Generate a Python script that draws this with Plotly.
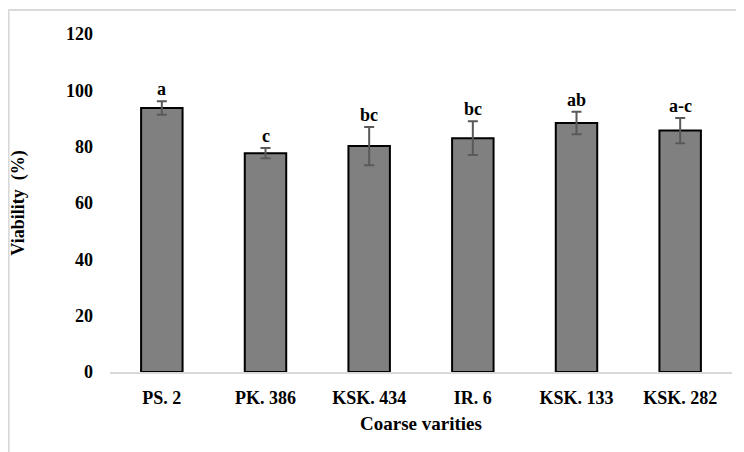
import plotly.graph_objects as go

categories = ["PS. 2", "PK. 386", "KSK. 434", "IR. 6", "KSK. 133", "KSK. 282"]
viability = [93.7, 77.7, 80.2, 83.0, 88.4, 85.7]
errors = [2.4, 1.8, 6.8, 6.0, 4.0, 4.5]
letters = ["a", "c", "bc", "bc", "ab", "a-c"]
y_ticks = [0, 20, 40, 60, 80, 100, 120]

font_family = "Liberation Serif, Times New Roman, serif"

fig = go.Figure()
fig.add_trace(go.Bar(
    x=categories, y=viability,
    marker=dict(color="#808080", line=dict(color="#000000", width=2)),
    error_y=dict(type="data", array=errors, visible=True, color="#595959",
                 thickness=2, width=5),
    width=0.4,
))

for c, v, e, t in zip(categories, viability, errors, letters):
    fig.add_annotation(x=c, y=v + e, text=t, showarrow=False,
                       yanchor="bottom", yshift=0,
                       font=dict(family=font_family, size=18, color="#000000",
                                 weight="bold"))

fig.add_shape(type="rect", xref="paper", yref="paper",
              x0=-0.163, x1=1.2, y0=-0.5, y1=1.071,
              line=dict(color="#d9d9d9", width=2), layer="below")

fig.update_layout(
    width=744, height=452,
    margin=dict(l=102, r=20, t=26, b=88),
    paper_bgcolor="white", plot_bgcolor="white",
    showlegend=False,
    font=dict(family=font_family, color="#000000"),
    xaxis=dict(
        automargin=False,
        showline=True, linecolor="#d9d9d9", linewidth=2,
        tickfont=dict(family=font_family, size=18, color="#000000", weight="bold"),
        ticklabelstandoff=8,
        title=dict(text="Coarse varities", standoff=10,
                   font=dict(family=font_family, size=19, color="#000000",
                             weight="bold")),
        showgrid=False, ticks="",
    ),
    yaxis=dict(
        automargin=False,
        range=[0, 120], tickvals=y_ticks,
        tickfont=dict(family=font_family, size=18, color="#000000", weight="bold"),
        showgrid=False, zeroline=False, showline=False, ticks="",
        ticklabelstandoff=16,
        title=dict(text="Viability  (%)", standoff=37,
                   font=dict(family=font_family, size=18, color="#000000",
                             weight="bold")),
    ),
)

fig.write_html("out.html")
